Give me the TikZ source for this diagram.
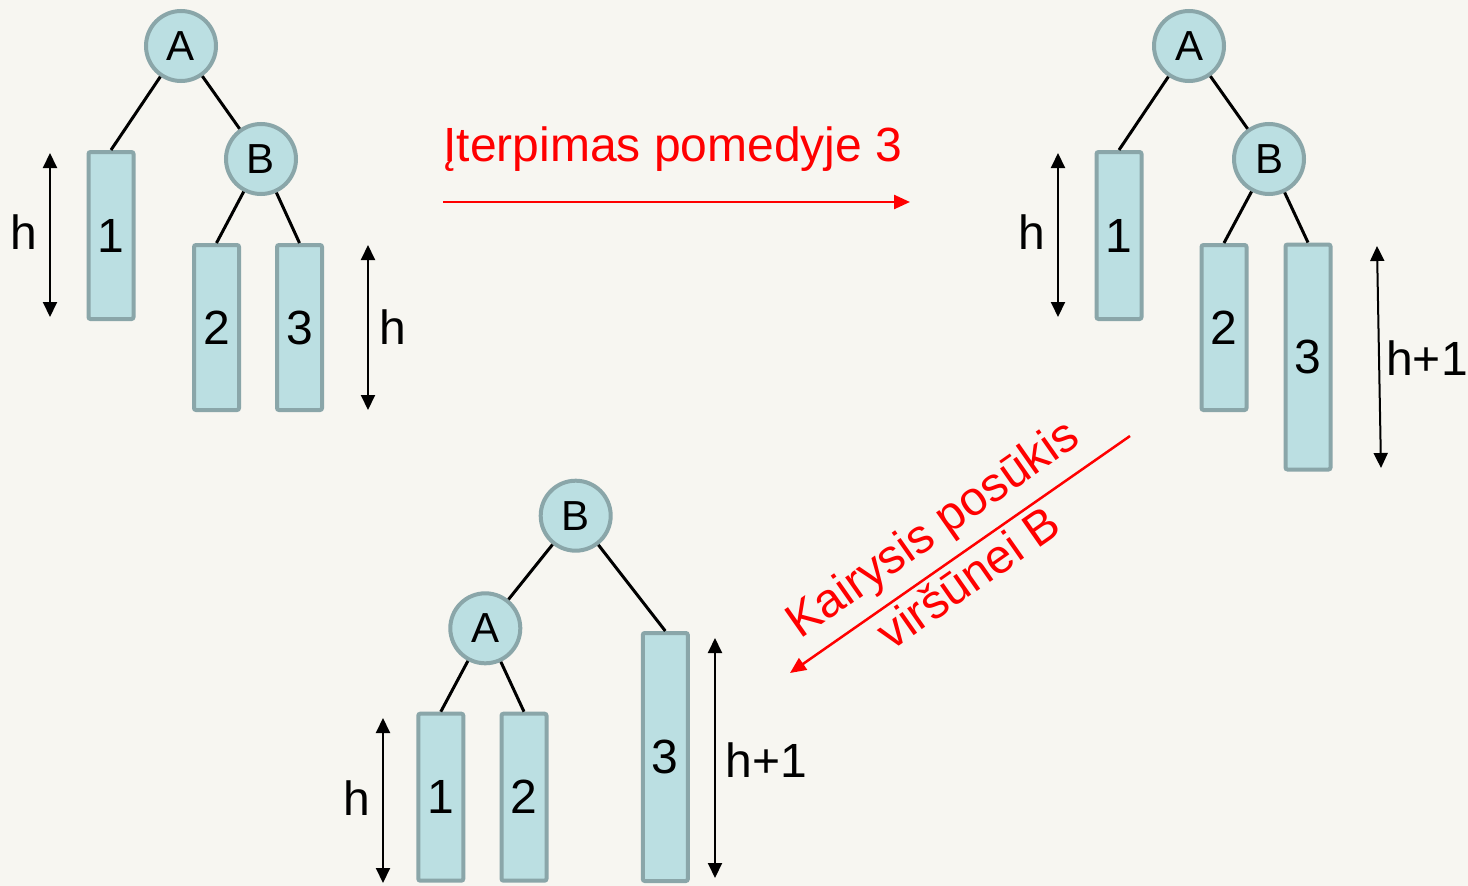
\documentclass[tikz,border=0pt]{standalone}
\usepackage{fontspec}
\setmainfont{Liberation Sans}
\usetikzlibrary{arrows.meta}
\definecolor{nodefill}{HTML}{BBDFE2}
\definecolor{nodeline}{HTML}{8AA6A9}
\definecolor{bgcol}{HTML}{F7F6F1}
\definecolor{redc}{HTML}{FF0000}
\begin{document}
\begin{tikzpicture}[x=1pt,y=-1pt,
  vnode/.style={circle,draw=nodeline,fill=nodefill,line width=4pt,minimum size=70pt,inner sep=0pt,font=\fontsize{42}{50}\selectfont},
  subtree/.style={rectangle,rounded corners=2pt,draw=nodeline,fill=nodefill,line width=4pt,minimum width=45pt,inner sep=0pt,font=\fontsize{48}{56}\selectfont},
  lbl/.style={inner sep=0pt,font=\fontsize{48}{56}\selectfont},
  treeedge/.style={line width=3pt,black},
  dimarrow/.style={line width=2pt,black,{Triangle[length=15pt,width=14pt]}-{Triangle[length=15pt,width=14pt]}},
  redarrow/.style={line width=2.5pt,redc,-{Triangle[length=16pt,width=14pt]}},
  redtxt/.style={inner sep=0pt,text=redc,font=\fontsize{48}{56}\selectfont}]
\useasboundingbox (0,0) rectangle (1468,886);
\fill[bgcol] (0,0) rectangle (1468,886);

% ---------- tree 1 ----------
\node[vnode] (a1) at (181,46) {A};
\node[vnode] (b1) at (261,159) {B};
\node[subtree,minimum height=167pt] (t11) at (111,235.5) {1};
\node[subtree,minimum height=165pt] (t12) at (216.5,327.5) {2};
\node[subtree,minimum height=165pt] (t13) at (299.5,327.5) {3};
\draw[treeedge] (a1) -- (t11.north);
\draw[treeedge] (a1) -- (b1);
\draw[treeedge] (b1) -- (t12.north);
\draw[treeedge] (b1) -- (t13.north);
\coordinate (d1a) at (50,153); \coordinate (d1b) at (50,317);
\draw[dimarrow] (d1a) -- (d1b);
\coordinate (d2a) at (368,245); \coordinate (d2b) at (368,410);
\draw[dimarrow] (d2a) -- (d2b);
\node[lbl] (h1) at (24,232.5) {h};
\node[lbl] (h2) at (392.5,327.5) {h};

% ---------- tree 2 ----------
\node[vnode] (a2) at (1189,46) {A};
\node[vnode] (b2) at (1269,159) {B};
\node[subtree,minimum height=167pt] (t21) at (1119,235.5) {1};
\node[subtree,minimum height=165pt] (t22) at (1224,327.5) {2};
\node[subtree,minimum height=225pt] (t23) at (1308,357) {3};
\draw[treeedge] (a2) -- (t21.north);
\draw[treeedge] (a2) -- (b2);
\draw[treeedge] (b2) -- (t22.north);
\draw[treeedge] (b2) -- (t23.north);
\coordinate (d3a) at (1058,153); \coordinate (d3b) at (1058,317);
\draw[dimarrow] (d3a) -- (d3b);
\coordinate (d4a) at (1377,246); \coordinate (d4b) at (1381,468);
\draw[dimarrow] (d4a) -- (d4b);
\node[lbl] (h3) at (1032,232.5) {h};
\node[lbl] (h4) at (1427,358) {h+1};

% ---------- tree 3 ----------
\node[vnode] (b3) at (575.7,515.7) {B};
\node[vnode] (a3) at (485.3,628.3) {A};
\node[subtree,minimum height=167pt] (t31) at (440.8,797.2) {1};
\node[subtree,minimum height=167pt] (t32) at (524,797.2) {2};
\node[subtree,minimum height=248pt] (t33) at (665.3,757) {3};
\draw[treeedge] (b3) -- (a3);
\draw[treeedge] (b3) -- (t33.north);
\draw[treeedge] (a3) -- (t31.north);
\draw[treeedge] (a3) -- (t32.north);
\coordinate (d5a) at (383,718); \coordinate (d5b) at (383,883);
\draw[dimarrow] (d5a) -- (d5b);
\coordinate (d6a) at (715,638); \coordinate (d6b) at (715,878);
\draw[dimarrow] (d6a) -- (d6b);
\node[lbl] (h5) at (357,798) {h};
\node[lbl] (h6) at (766.5,760) {h+1};

% ---------- transitions ----------
\node[redtxt,anchor=base] (ins) at (673,161) {Įterpimas pomedyje 3};
\coordinate (r1s) at (443,202); \coordinate (r1e) at (910,202);
\draw[redarrow] (r1s) -- (r1e);

\coordinate (r2s) at (1130,436); \coordinate (r2e) at (790,673);
\draw[redarrow] (r2s) -- (r2e);
\node[redtxt,rotate=35] (rot1) at (934,531) {Kairysis posūkis};
\node[redtxt,rotate=35] (rot2) at (968,577) {viršūnei B};
\end{tikzpicture}
\end{document}
